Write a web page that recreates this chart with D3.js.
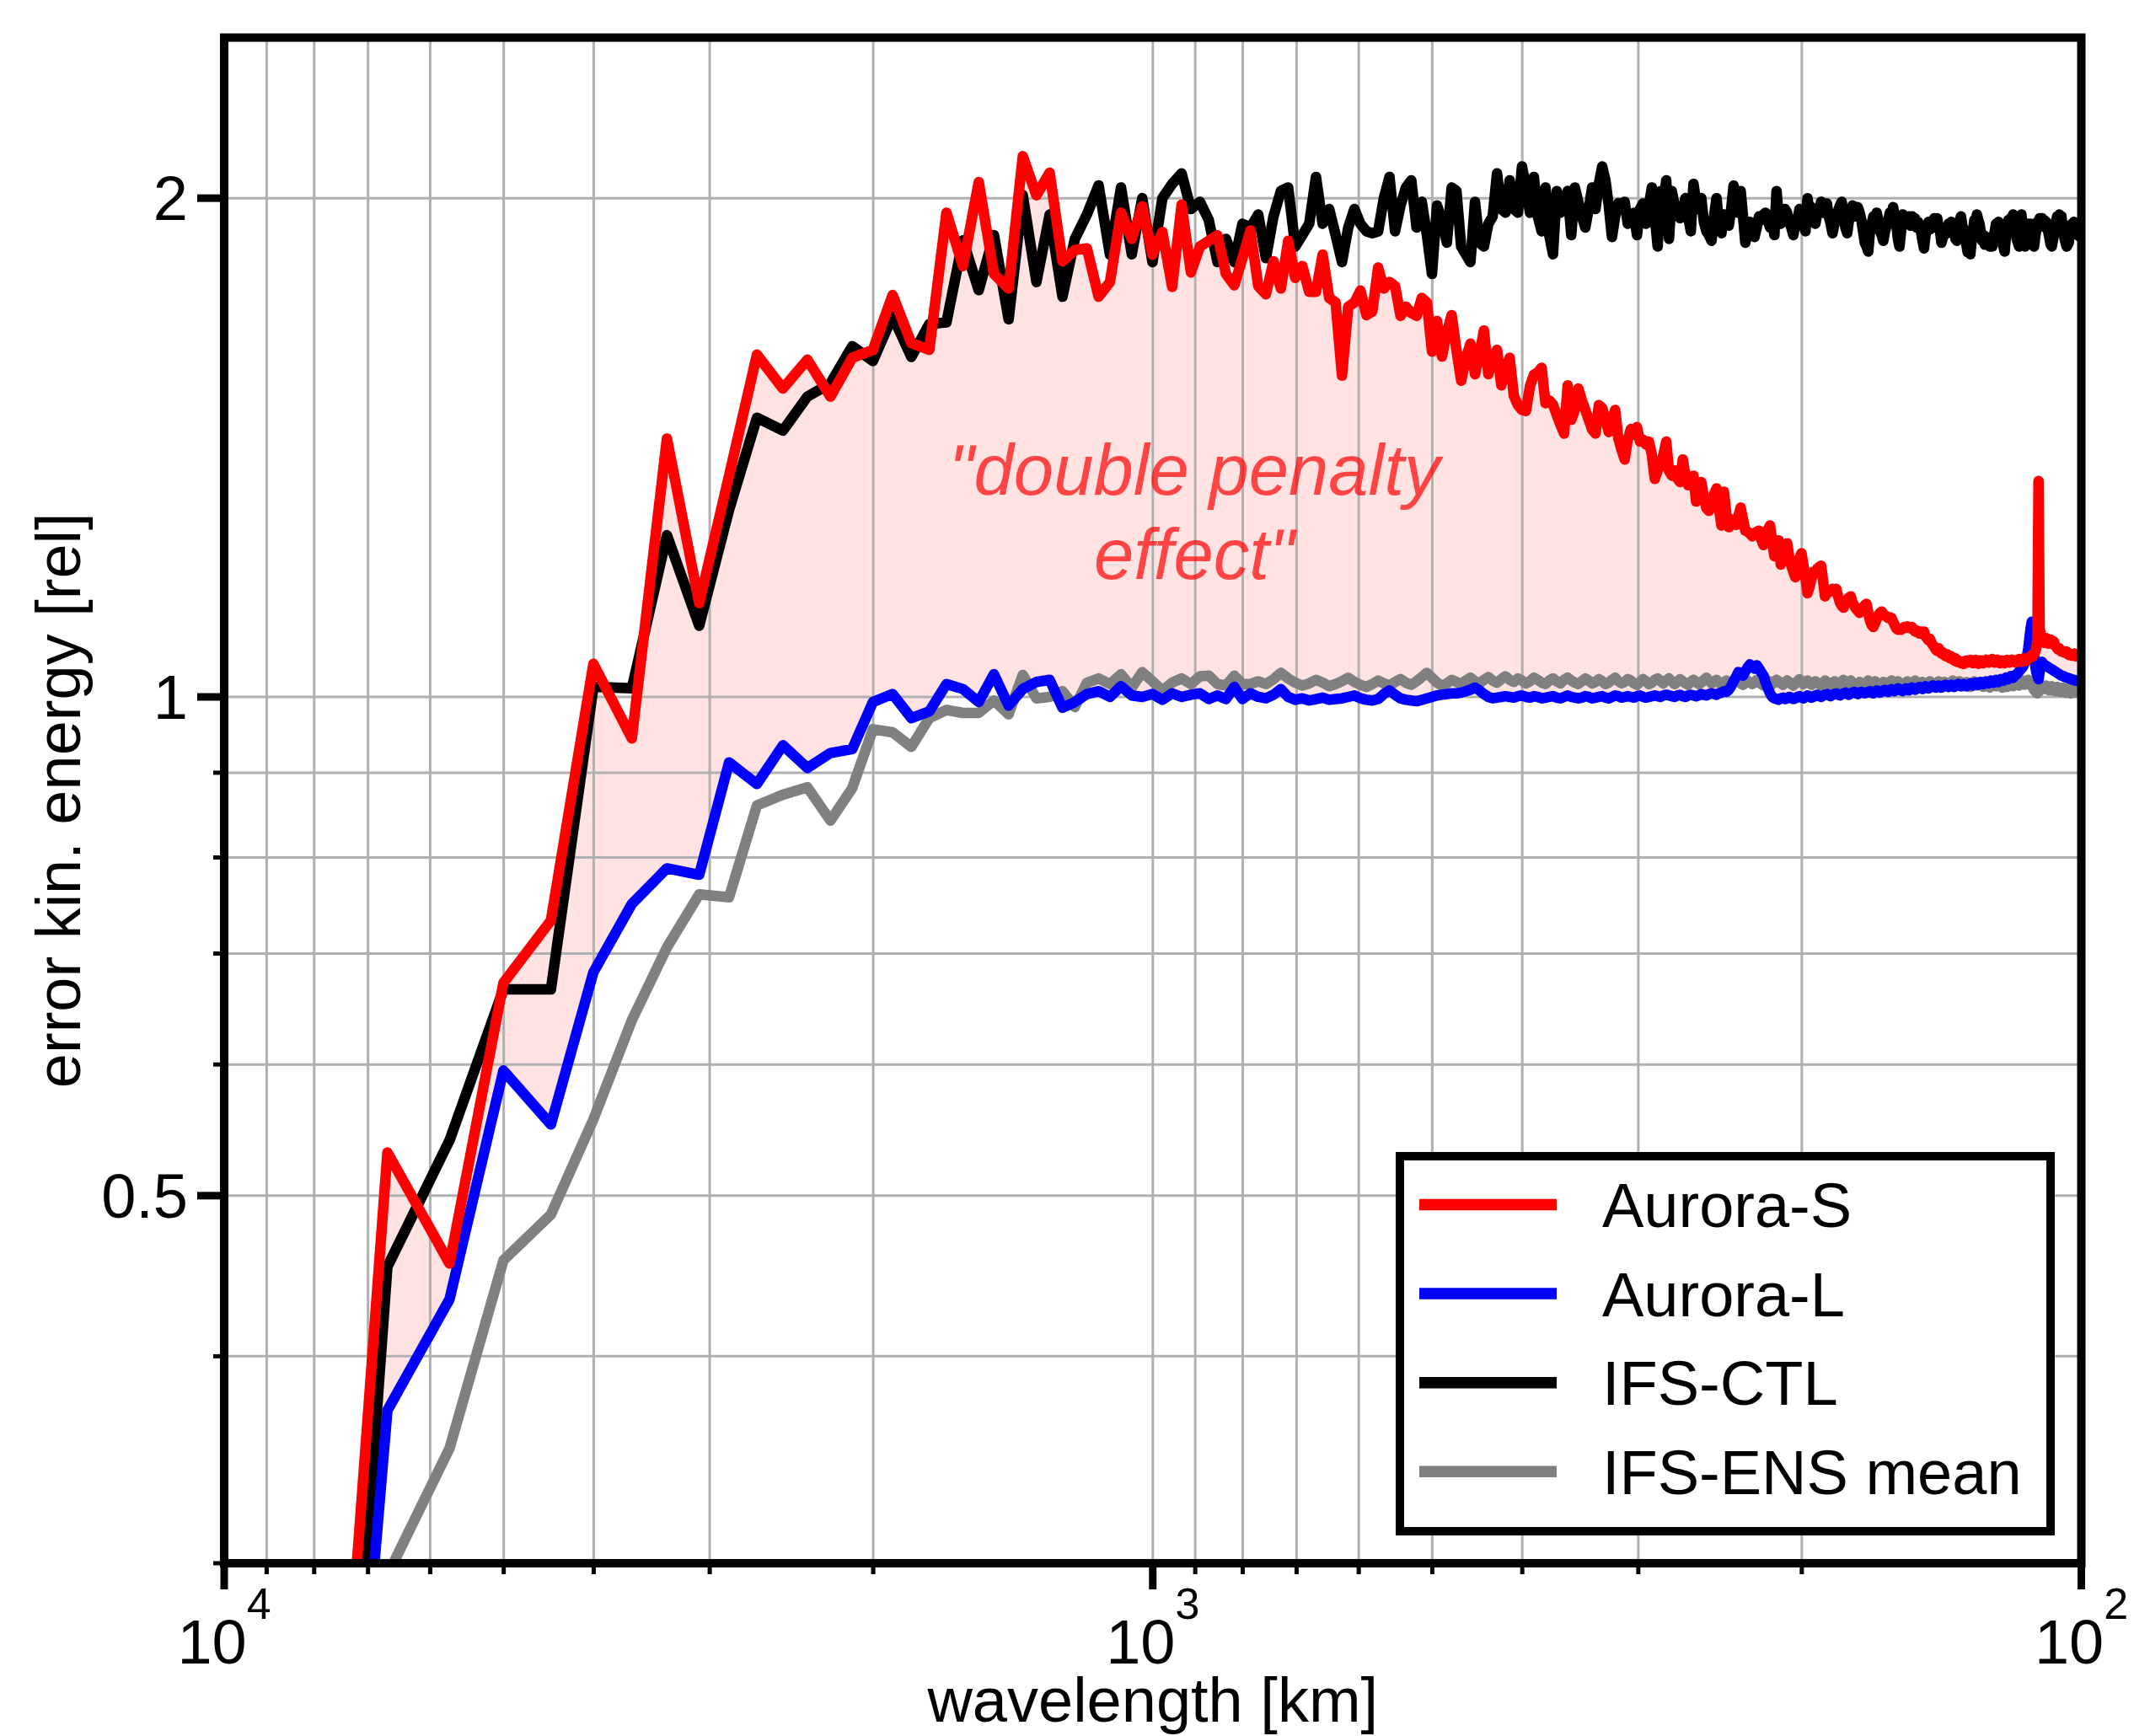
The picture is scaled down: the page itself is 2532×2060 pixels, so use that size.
<!DOCTYPE html>
<html>
<head>
<meta charset="utf-8">
<script src="https://cdn.jsdelivr.net/npm/d3@7"></script>
<style>
  body { margin: 0; background: #fff; }
  svg { display: block; }
  text { font-family: "Liberation Sans", Arial, Helvetica, sans-serif; }
</style>
</head>
<body>
<div id="chart"></div>
<script>
// spectral wavenumbers k = 5..400, wavelength = earth circumference / k
var earthCircumference = 40030;
var wavenumbers = d3.range(5, 401);

var seriesNames = ["Aurora-S", "Aurora-L", "IFS-CTL", "IFS-ENS mean"];
var seriesColors = ["#ff0000", "#0000ff", "#000000", "#808080"];

// Aurora-S (red)
var auroraS = [
  0.134, 0.531, 0.455, 0.672, 0.733, 1.047, 0.944, 1.432, 1.139, 1.36,
  1.609, 1.535, 1.598, 1.518, 1.602, 1.62, 1.748, 1.635, 1.62, 1.96,
  1.82, 2.045, 1.80, 1.764, 2.12, 2.008, 2.072, 1.832, 1.861, 1.865,
  1.744, 1.78, 1.96, 1.89, 1.977, 1.849, 1.908, 1.768, 1.982, 1.804,
  1.87, 1.885, 1.899, 1.80, 1.772, 1.84, 1.912, 1.77, 1.75, 1.832,
  1.764, 1.885, 1.79, 1.82, 1.756, 1.756, 1.849, 1.741, 1.73, 1.563,
  1.72, 1.73, 1.759, 1.70, 1.709, 1.816, 1.764, 1.78, 1.77, 1.698,
  1.72, 1.705, 1.698, 1.741, 1.73, 1.616, 1.686, 1.605, 1.66, 1.70,
  1.62, 1.552, 1.60, 1.634, 1.566, 1.61, 1.664, 1.566, 1.60, 1.62,
  1.542, 1.58, 1.602, 1.52, 1.50, 1.49, 1.488, 1.54, 1.565, 1.57,
  1.58, 1.504, 1.51, 1.501, 1.48, 1.46, 1.442, 1.542, 1.47, 1.49,
  1.535, 1.51, 1.49, 1.47, 1.45, 1.442, 1.50, 1.494, 1.47, 1.445,
  1.47, 1.49, 1.432, 1.41, 1.391, 1.43, 1.451, 1.44, 1.455, 1.426,
  1.43, 1.42, 1.426, 1.40, 1.354, 1.37, 1.38, 1.40, 1.426, 1.369,
  1.36, 1.37, 1.355, 1.348, 1.391, 1.36, 1.342, 1.35, 1.36, 1.312,
  1.33, 1.348, 1.32, 1.30, 1.295, 1.31, 1.325, 1.336, 1.30, 1.269,
  1.33, 1.29, 1.266, 1.28, 1.275, 1.27, 1.285, 1.301, 1.28, 1.26,
  1.258, 1.255, 1.25, 1.255, 1.258, 1.26, 1.245, 1.235, 1.25, 1.262,
  1.269, 1.24, 1.216, 1.23, 1.243, 1.202, 1.215, 1.228, 1.238, 1.215,
  1.20, 1.19, 1.181, 1.20, 1.212, 1.221, 1.20, 1.18, 1.155, 1.165,
  1.178, 1.19, 1.19, 1.195, 1.198, 1.20, 1.175, 1.15, 1.155, 1.16,
  1.158, 1.162, 1.16, 1.162, 1.15, 1.14, 1.135, 1.132, 1.14, 1.145,
  1.148, 1.15, 1.14, 1.135, 1.13, 1.127, 1.124, 1.128, 1.133, 1.136,
  1.138, 1.125, 1.112, 1.105, 1.102, 1.108, 1.114, 1.12, 1.124, 1.126,
  1.122, 1.12, 1.118, 1.116, 1.117, 1.116, 1.11, 1.105, 1.10, 1.098,
  1.099, 1.098, 1.10, 1.102, 1.101, 1.103, 1.102, 1.10, 1.102, 1.098,
  1.095, 1.097, 1.094, 1.092, 1.095, 1.093, 1.095, 1.088, 1.085, 1.082,
  1.084, 1.078, 1.075, 1.072, 1.068, 1.066, 1.07, 1.066, 1.062, 1.064,
  1.06, 1.058, 1.061, 1.057, 1.055, 1.058, 1.054, 1.052, 1.055, 1.05,
  1.052, 1.049, 1.048, 1.05, 1.047, 1.05, 1.052, 1.049, 1.051, 1.053,
  1.05, 1.048, 1.051, 1.053, 1.05, 1.047, 1.049, 1.052, 1.05, 1.048,
  1.05, 1.053, 1.051, 1.049, 1.05, 1.052, 1.054, 1.051, 1.049, 1.05,
  1.053, 1.051, 1.048, 1.05, 1.052, 1.05, 1.048, 1.051, 1.053, 1.05,
  1.049, 1.051, 1.053, 1.052, 1.05, 1.049, 1.051, 1.053, 1.054, 1.052,
  1.05, 1.052, 1.055, 1.053, 1.051, 1.054, 1.056, 1.055, 1.057, 1.06,
  1.058, 1.062, 1.065, 1.07, 1.085, 1.35, 1.1, 1.09, 1.085, 1.08,
  1.078, 1.082, 1.085, 1.08, 1.077, 1.08, 1.083, 1.079, 1.076, 1.08,
  1.075, 1.072, 1.07, 1.068, 1.07, 1.067, 1.065, 1.066, 1.064, 1.065,
  1.063, 1.065, 1.062, 1.06, 1.062, 1.061, 1.059, 1.06, 1.062, 1.06,
  1.058, 1.06, 1.061, 1.059, 1.06, 1.058
];

// Aurora-L (blue)
var auroraL = [
  0.111, 0.371, 0.433, 0.595, 0.552, 0.682, 0.750, 0.788, 0.781, 0.913,
  0.886, 0.935, 0.906, 0.925, 0.930, 0.993, 1.004, 0.971, 0.980, 1.018,
  1.011, 0.993, 1.032, 0.988, 1.011, 1.021, 1.024, 0.985, 0.993, 1.004,
  1.008, 1.000, 1.015, 1.002, 1.000, 1.004, 0.996, 1.005, 1.000, 1.003,
  1.005, 0.997, 1.002, 0.997, 1.014, 0.997, 1.005, 1.0, 0.998, 1.003,
  1.011, 1.0, 0.996, 0.998, 0.995, 0.997, 0.999, 0.996, 0.997, 0.998,
  1.0, 1.002, 0.998, 0.996, 0.995, 0.997, 1.004, 1.009, 1.003, 0.998,
  0.996, 0.995, 0.994, 0.996, 0.998, 1.0, 1.002, 1.003, 1.004, 1.005,
  1.005, 1.006, 1.008, 1.01, 1.013, 1.009, 1.004, 1.0, 0.998, 0.999,
  1.0, 1.001, 1.0, 0.999, 1.001, 1.002, 1.0, 0.999, 1.001, 1.0,
  0.998, 0.999, 1.0, 1.001, 0.999, 0.998, 1.0, 1.002, 1.0, 0.999,
  0.998, 0.999, 1.001, 1.0, 0.998, 0.999, 1.0, 1.001, 0.999, 0.998,
  1.0, 1.002, 1.001, 0.999, 1.0, 1.001, 1.0, 0.999, 1.001, 1.002,
  1.0, 0.999, 1.0, 1.001, 1.002, 1.001, 1.0, 1.002, 1.003, 1.002,
  1.001, 1.0, 1.002, 1.003, 1.001, 1.0, 1.002, 1.003, 1.002, 1.001,
  1.002, 1.004, 1.003, 1.002, 1.004, 1.005, 1.004, 1.003, 1.005, 1.006,
  1.008, 1.007, 1.01, 1.015, 1.022, 1.028, 1.035, 1.034, 1.03, 1.036,
  1.042, 1.046, 1.044, 1.04, 1.045, 1.04, 1.035, 1.03, 1.02, 1.012,
  1.005, 1.0, 0.998, 0.997, 0.996, 0.998, 0.999, 0.997, 0.998, 1.0,
  0.999, 0.997, 0.998, 1.0, 1.001, 0.999, 0.998, 1.0, 1.002, 1.001,
  0.999, 1.0, 1.002, 1.003, 1.001, 1.0, 1.002, 1.003, 1.004, 1.002,
  1.001, 1.003, 1.004, 1.005, 1.003, 1.002, 1.004, 1.005, 1.006, 1.004,
  1.003, 1.005, 1.006, 1.007, 1.005, 1.004, 1.006, 1.007, 1.006, 1.005,
  1.006, 1.007, 1.008, 1.006, 1.005, 1.007, 1.009, 1.008, 1.006, 1.007,
  1.009, 1.01, 1.008, 1.007, 1.009, 1.011, 1.009, 1.008, 1.01, 1.012,
  1.011, 1.009, 1.008, 1.01, 1.012, 1.011, 1.009, 1.011, 1.013, 1.012,
  1.01, 1.011, 1.013, 1.014, 1.012, 1.011, 1.013, 1.015, 1.014, 1.012,
  1.013, 1.015, 1.016, 1.014, 1.013, 1.015, 1.016, 1.015, 1.013, 1.014,
  1.016, 1.017, 1.015, 1.014, 1.016, 1.017, 1.016, 1.014, 1.015, 1.017,
  1.018, 1.016, 1.015, 1.017, 1.018, 1.017, 1.015, 1.016, 1.018, 1.019,
  1.017, 1.016, 1.018, 1.02, 1.018, 1.017, 1.019, 1.021, 1.019, 1.018,
  1.02, 1.022, 1.02, 1.019, 1.021, 1.023, 1.021, 1.02, 1.022, 1.024,
  1.022, 1.021, 1.023, 1.025, 1.024, 1.023, 1.025, 1.027, 1.026, 1.025,
  1.027, 1.029, 1.028, 1.027, 1.029, 1.031, 1.032, 1.034, 1.036, 1.038,
  1.04, 1.042, 1.045, 1.049, 1.053, 1.06, 1.07, 1.085, 1.1, 1.11,
  1.09, 1.06, 1.045, 1.035, 1.03, 1.025, 1.035, 1.045, 1.05, 1.048,
  1.046, 1.045, 1.044, 1.043, 1.042, 1.041, 1.04, 1.039, 1.038, 1.037,
  1.036, 1.035, 1.034, 1.033, 1.032, 1.031, 1.03, 1.03, 1.029, 1.028,
  1.028, 1.027, 1.027, 1.026, 1.026, 1.025, 1.025, 1.024, 1.024, 1.023,
  1.023, 1.023, 1.022, 1.022, 1.022, 1.022
];

// IFS-CTL (black)
var ifsCtl = [
  0.111, 0.453, 0.540, 0.666, 0.666, 1.014, 1.012, 1.252, 1.104, 1.297,
  1.474, 1.448, 1.518, 1.546, 1.628, 1.595, 1.698, 1.604, 1.679, 1.683,
  1.886, 1.76, 1.90, 1.69, 2.008, 1.78, 1.955, 1.744, 1.89, 1.955,
  2.036, 1.849, 2.03, 1.85, 2.0, 1.83, 2.0, 2.04, 2.07, 1.97,
  1.99, 1.94, 1.83, 1.89, 1.83, 1.93, 1.92, 1.955, 1.84, 1.95,
  2.02, 2.03, 1.87, 1.90, 1.93, 2.06, 1.93, 1.97, 1.90, 1.83,
  1.92, 1.97, 1.93, 1.91, 1.905, 1.91, 2.0, 2.06, 1.91, 1.98,
  2.03, 2.05, 1.92, 1.99, 1.90, 1.80, 1.98, 1.94, 1.88, 2.03,
  2.02, 1.87, 1.85, 1.83, 1.99, 1.88, 1.87, 1.93, 1.95, 2.07,
  1.97, 1.96, 2.05, 1.97, 1.96, 2.09, 2.03, 1.96, 2.06, 1.95,
  1.91, 2.03, 1.90, 1.85, 2.02, 1.96, 1.99, 2.02, 1.90, 2.03,
  1.99, 1.95, 1.92, 1.97, 2.03, 1.97, 2.04, 2.09, 2.05, 1.98,
  1.895, 1.95, 1.986, 1.97, 1.99, 1.93, 1.95, 1.96, 1.90, 1.97,
  1.985, 1.93, 1.98, 2.03, 1.95, 1.87, 2.02, 1.98, 2.05, 1.89,
  2.02, 1.98, 1.96, 1.945, 1.97, 2.0, 1.95, 1.91, 2.04, 1.99,
  1.97, 2.0, 1.935, 1.91, 1.90, 1.885, 1.95, 2.0, 1.93, 1.905,
  1.955, 1.94, 1.925, 1.97, 2.035, 1.99, 1.96, 2.02, 1.95, 1.88,
  1.91, 1.935, 1.92, 1.895, 1.92, 1.95, 1.94, 1.955, 1.96, 1.94,
  1.92, 1.935, 1.90, 2.02, 1.95, 1.93, 1.95, 1.97, 1.96, 1.935,
  1.92, 1.90, 1.93, 1.94, 1.97, 1.94, 1.925, 1.91, 2.0, 1.96,
  1.975, 1.94, 1.93, 1.96, 1.97, 1.99, 1.96, 1.98, 1.985, 1.95,
  1.93, 1.905, 1.93, 1.94, 1.965, 1.98, 1.99, 1.95, 1.92, 1.905,
  1.94, 1.96, 1.98, 1.95, 1.96, 1.975, 1.96, 1.94, 1.91, 1.88,
  1.87, 1.857, 1.91, 1.93, 1.95, 1.93, 1.96, 1.94, 1.91, 1.90,
  1.885, 1.91, 1.925, 1.94, 1.96, 1.945, 1.975, 1.95, 1.93, 1.89,
  1.87, 1.91, 1.955, 1.93, 1.95, 1.935, 1.95, 1.925, 1.95, 1.93,
  1.945, 1.92, 1.935, 1.915, 1.91, 1.885, 1.865, 1.9, 1.92, 1.935,
  1.915, 1.935, 1.92, 1.945, 1.93, 1.945, 1.92, 1.91, 1.88, 1.895,
  1.90, 1.92, 1.905, 1.93, 1.915, 1.935, 1.92, 1.915, 1.89, 1.885,
  1.915, 1.935, 1.95, 1.925, 1.915, 1.89, 1.875, 1.855, 1.87, 1.85,
  1.885, 1.91, 1.94, 1.93, 1.955, 1.94, 1.93, 1.905, 1.885, 1.90,
  1.875, 1.895, 1.875, 1.89, 1.87, 1.885, 1.87, 1.895, 1.91, 1.93,
  1.915, 1.935, 1.92, 1.905, 1.88, 1.87, 1.857, 1.895, 1.92, 1.94,
  1.925, 1.945, 1.935, 1.955, 1.93, 1.915, 1.89, 1.88, 1.87, 1.9,
  1.955, 1.925, 1.905, 1.87, 1.895, 1.915, 1.93, 1.915, 1.93, 1.9,
  1.885, 1.87, 1.895, 1.915, 1.935, 1.925, 1.945, 1.93, 1.945, 1.925,
  1.94, 1.92, 1.935, 1.925, 1.905, 1.89, 1.875, 1.87, 1.885, 1.90,
  1.925, 1.935, 1.95, 1.94, 1.955, 1.935, 1.95, 1.925, 1.91, 1.89,
  1.88, 1.87, 1.875, 1.88, 1.905, 1.915, 1.93, 1.92, 1.935, 1.925,
  1.92, 1.905, 1.9, 1.91, 1.895, 1.91
];

// IFS-ENS mean (grey)
var ifsEnsMean = [
  0.2, 0.295, 0.352, 0.457, 0.487, 0.556, 0.638, 0.706, 0.760, 0.757,
  0.860, 0.873, 0.882, 0.842, 0.881, 0.956, 0.952, 0.933, 0.971, 0.982,
  0.978, 0.978, 0.995, 0.976, 1.031, 0.998, 1.0, 1.008, 0.986, 1.02,
  1.026, 1.018, 1.032, 1.013, 1.035, 1.022, 1.009, 1.02, 1.026, 1.018,
  1.029, 1.03, 1.018, 1.016, 1.03, 1.018, 1.018, 1.022, 1.018, 1.025,
  1.034, 1.026, 1.02, 1.016, 1.019, 1.024, 1.02, 1.015, 1.018, 1.022,
  1.027, 1.021, 1.017, 1.014, 1.018, 1.023, 1.019, 1.016, 1.021, 1.025,
  1.02, 1.017, 1.022, 1.028, 1.034, 1.027, 1.02, 1.016, 1.019, 1.024,
  1.021, 1.018, 1.023, 1.027, 1.022, 1.019, 1.024, 1.028, 1.023, 1.02,
  1.025, 1.029, 1.024, 1.021, 1.026, 1.023, 1.019, 1.022, 1.027, 1.024,
  1.02, 1.018, 1.023, 1.026, 1.022, 1.019, 1.024, 1.027, 1.023, 1.02,
  1.018, 1.022, 1.026, 1.023, 1.019, 1.021, 1.025, 1.022, 1.018, 1.02,
  1.024, 1.027, 1.022, 1.019, 1.021, 1.025, 1.023, 1.019, 1.017, 1.021,
  1.025, 1.022, 1.018, 1.02, 1.024, 1.026, 1.022, 1.019, 1.023, 1.026,
  1.022, 1.018, 1.021, 1.025, 1.022, 1.019, 1.017, 1.021, 1.024, 1.021,
  1.018, 1.02, 1.024, 1.027, 1.023, 1.019, 1.021, 1.024, 1.02, 1.017,
  1.02, 1.023, 1.021, 1.018, 1.02, 1.024, 1.022, 1.019, 1.017, 1.02,
  1.023, 1.021, 1.018, 1.02, 1.024, 1.021, 1.018, 1.016, 1.02, 1.023,
  1.02, 1.018, 1.021, 1.024, 1.022, 1.019, 1.017, 1.02, 1.023, 1.021,
  1.018, 1.016, 1.019, 1.022, 1.025, 1.021, 1.018, 1.02, 1.023, 1.02,
  1.017, 1.019, 1.022, 1.02, 1.018, 1.016, 1.02, 1.023, 1.021, 1.018,
  1.016, 1.019, 1.022, 1.02, 1.017, 1.019, 1.022, 1.024, 1.021, 1.018,
  1.02, 1.023, 1.02, 1.017, 1.015, 1.018, 1.021, 1.019, 1.016, 1.018,
  1.021, 1.023, 1.02, 1.017, 1.019, 1.022, 1.02, 1.017, 1.015, 1.018,
  1.021, 1.019, 1.016, 1.018, 1.021, 1.023, 1.02, 1.017, 1.019, 1.022,
  1.02, 1.017, 1.015, 1.018, 1.02, 1.022, 1.019, 1.016, 1.018, 1.021,
  1.023, 1.02, 1.017, 1.015, 1.018, 1.021, 1.019, 1.016, 1.018, 1.02,
  1.022, 1.019, 1.016, 1.014, 1.017, 1.02, 1.022, 1.019, 1.016, 1.018,
  1.021, 1.019, 1.016, 1.015, 1.018, 1.021, 1.023, 1.02, 1.017, 1.016,
  1.019, 1.022, 1.02, 1.017, 1.015, 1.018, 1.021, 1.019, 1.016, 1.014,
  1.017, 1.02, 1.022, 1.019, 1.016, 1.018, 1.021, 1.019, 1.016, 1.014,
  1.017, 1.02, 1.018, 1.015, 1.013, 1.016, 1.019, 1.021, 1.018, 1.015,
  1.017, 1.02, 1.018, 1.015, 1.013, 1.016, 1.019, 1.017, 1.014, 1.016,
  1.019, 1.021, 1.018, 1.015, 1.017, 1.02, 1.022, 1.019, 1.016, 1.018,
  1.021, 1.023, 1.02, 1.017, 1.019, 1.022, 1.024, 1.021, 1.018, 1.016,
  1.013, 1.01, 1.008, 1.006, 1.005, 1.007, 1.01, 1.013, 1.016, 1.014,
  1.011, 1.013, 1.016, 1.014, 1.011, 1.009, 1.012, 1.015, 1.013, 1.01,
  1.008, 1.011, 1.014, 1.012, 1.009, 1.007, 1.01, 1.013, 1.011, 1.008,
  1.006, 1.009, 1.012, 1.01, 1.007, 1.005, 1.008, 1.011, 1.009, 1.006,
  1.008, 1.011, 1.009, 1.006, 1.008, 1.01
];

// axis ticks
var xMajorTicks = [1e4, 1e3, 1e2];
var xMajorExponents = ["4", "3", "2"];
var xMinorTicks = [9000, 8000, 7000, 6000, 5000, 4000, 3000, 2000,
                   900, 800, 700, 600, 500, 400, 300, 200];
var yMajorTicks = [0.5, 1, 2];
var yMajorLabels = ["0.5", "1", "2"];
var yMinorTicks = [0.3, 0.4, 0.6, 0.7, 0.8, 0.9];
var yGridValues = [0.4, 0.5, 0.6, 0.7, 0.8, 0.9, 1, 2];
var annotationLines = ["\"double penalty", "effect\""];

var width = 2532, height = 2060;
var plot = { left: 266, right: 2469.5, top: 44.6, bottom: 1855 };

var svg = d3.select("#chart").append("svg")
    .attr("width", width)
    .attr("height", height);

svg.append("rect").attr("width", width).attr("height", height).attr("fill", "#fff");

var x = d3.scaleLog().domain([1e4, 1e2]).range([plot.left, plot.right]);
var y = d3.scaleLog().domain([0.3, 2.5]).range([plot.bottom, plot.top]);

svg.append("clipPath").attr("id", "plotClip")
  .append("rect")
    .attr("x", plot.left).attr("y", plot.top)
    .attr("width", plot.right - plot.left)
    .attr("height", plot.bottom - plot.top);

// one row per wavenumber
var rows = wavenumbers.map(function (k, i) {
    return {
        wl: earthCircumference / k,
        s: auroraS[i], l: auroraL[i], c: ifsCtl[i], e: ifsEnsMean[i]
    };
});

var inner = svg.append("g").attr("clip-path", "url(#plotClip)");

// shaded "double penalty" band between Aurora-S and Aurora-L
var band = d3.area()
    .x(function (d) { return x(d.wl); })
    .y0(function (d) { return y(d.l); })
    .y1(function (d) { return y(d.s); });

inner.append("path")
    .datum(rows)
    .attr("d", band)
    .attr("fill", "#ff0000")
    .attr("fill-opacity", 0.11);

// grid
inner.selectAll(".vgrid")
  .data(xMinorTicks.concat([1e3]))
  .enter().append("line")
    .attr("x1", function (d) { return x(d); })
    .attr("x2", function (d) { return x(d); })
    .attr("y1", plot.top).attr("y2", plot.bottom)
    .attr("stroke", "#b0b0b0").attr("stroke-width", 3);

inner.selectAll(".hgrid")
  .data(yGridValues)
  .enter().append("line")
    .attr("y1", function (d) { return y(d); })
    .attr("y2", function (d) { return y(d); })
    .attr("x1", plot.left).attr("x2", plot.right)
    .attr("stroke", "#b0b0b0").attr("stroke-width", 3);

// lines, drawn grey, black, blue, red
var keys = ["s", "l", "c", "e"];
[3, 2, 1, 0].forEach(function (i) {
    var key = keys[i];
    var line = d3.line()
        .x(function (d) { return x(d.wl); })
        .y(function (d) { return y(d[key]); });
    inner.append("path")
        .datum(rows)
        .attr("d", line)
        .attr("fill", "none")
        .attr("stroke", seriesColors[i])
        .attr("stroke-width", 12.5)
        .attr("stroke-linejoin", "round");
});

// annotation
var note = svg.append("text")
    .attr("text-anchor", "middle")
    .attr("font-size", 85)
    .attr("font-style", "italic")
    .attr("fill", "#ff0000")
    .attr("fill-opacity", 0.7);
annotationLines.forEach(function (t, i) {
    note.append("tspan")
        .attr("x", 1417)
        .attr("y", 587 + i * 100)
        .text(t);
});

// spines
svg.append("rect")
    .attr("x", plot.left).attr("y", plot.top)
    .attr("width", plot.right - plot.left)
    .attr("height", plot.bottom - plot.top)
    .attr("fill", "none")
    .attr("stroke", "#000")
    .attr("stroke-width", 10);

// x ticks
svg.selectAll(".xmajor")
  .data(xMajorTicks)
  .enter().append("line")
    .attr("x1", function (d) { return x(d); })
    .attr("x2", function (d) { return x(d); })
    .attr("y1", plot.bottom).attr("y2", plot.bottom + 31)
    .attr("stroke", "#000").attr("stroke-width", 9);

svg.selectAll(".xminor")
  .data(xMinorTicks)
  .enter().append("line")
    .attr("x1", function (d) { return x(d); })
    .attr("x2", function (d) { return x(d); })
    .attr("y1", plot.bottom).attr("y2", plot.bottom + 13)
    .attr("stroke", "#000").attr("stroke-width", 5);

var xLabels = svg.selectAll(".xlabel")
  .data(xMajorTicks)
  .enter().append("text")
    .attr("x", function (d) { return x(d); })
    .attr("y", 1974)
    .attr("text-anchor", "middle")
    .attr("font-size", 74);
xLabels.append("tspan").text("10");
xLabels.append("tspan")
    .attr("dy", -53)
    .attr("font-size", 52)
    .text(function (d, i) { return xMajorExponents[i]; });

// y ticks
svg.selectAll(".ymajor")
  .data(yMajorTicks)
  .enter().append("line")
    .attr("y1", function (d) { return y(d); })
    .attr("y2", function (d) { return y(d); })
    .attr("x1", plot.left).attr("x2", plot.left - 32)
    .attr("stroke", "#000").attr("stroke-width", 9);

svg.selectAll(".yminor")
  .data(yMinorTicks)
  .enter().append("line")
    .attr("y1", function (d) { return y(d); })
    .attr("y2", function (d) { return y(d); })
    .attr("x1", plot.left).attr("x2", plot.left - 13)
    .attr("stroke", "#000").attr("stroke-width", 5);

svg.selectAll(".ylabel")
  .data(yMajorTicks)
  .enter().append("text")
    .attr("x", 223)
    .attr("y", function (d) { return y(d) + 26; })
    .attr("text-anchor", "end")
    .attr("font-size", 74)
    .text(function (d, i) { return yMajorLabels[i]; });

// axis titles
svg.append("text")
    .attr("x", (plot.left + plot.right) / 2)
    .attr("y", 2043)
    .attr("text-anchor", "middle")
    .attr("font-size", 74)
    .text("wavelength [km]");

svg.append("text")
    .attr("transform", "translate(95," + ((plot.top + plot.bottom) / 2) + ") rotate(-90)")
    .attr("text-anchor", "middle")
    .attr("font-size", 74)
    .text("error kin. energy [rel]");

// legend
var legend = svg.append("g");
legend.append("rect")
    .attr("x", 1661).attr("y", 1372)
    .attr("width", 2433 - 1661).attr("height", 1817 - 1372)
    .attr("fill", "#fff")
    .attr("stroke", "#000")
    .attr("stroke-width", 10);

seriesNames.forEach(function (name, i) {
    var ly = 1429.5 + i * 105.6;
    legend.append("line")
        .attr("x1", 1684).attr("x2", 1847)
        .attr("y1", ly).attr("y2", ly)
        .attr("stroke", seriesColors[i])
        .attr("stroke-width", 13.5);
    legend.append("text")
        .attr("x", 1901)
        .attr("y", ly + 26.5)
        .attr("font-size", 74)
        .text(name);
});
</script>
</body>
</html>
